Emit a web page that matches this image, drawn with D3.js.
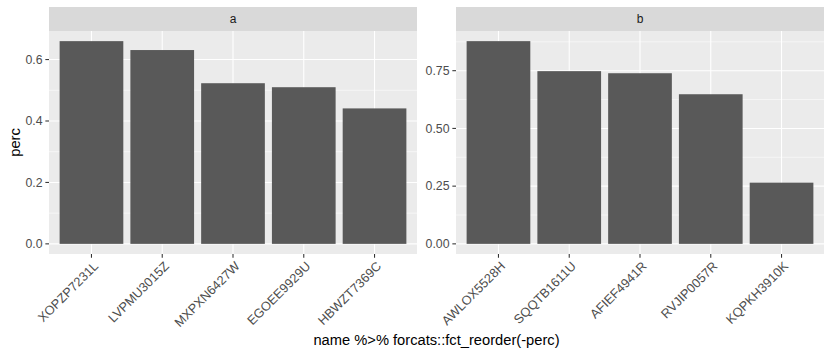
<!DOCTYPE html>
<html>
<head>
<meta charset="utf-8">
<script src="https://cdn.jsdelivr.net/npm/d3@7"></script>
<style>
body { margin: 0; background: #fff; }
text { font-family: Arial, "Liberation Sans", sans-serif; }
</style>
</head>
<body>
<script>
// Data
const panelNames = ["a", "b"];
const namesA = ["XOPZP7231L", "LVPMU3015Z", "MXPXN6427W", "EGOEE9929U", "HBWZT7369C"];
const percA = [0.660, 0.631, 0.523, 0.510, 0.441];
const namesB = ["AWLOX5528H", "SQQTB1611U", "AFIEF4941R", "RVJIP0057R", "KQPKH3910K"];
const percB = [0.878, 0.748, 0.739, 0.648, 0.265];
const ticksA = [0, 0.2, 0.4, 0.6];
const tickLabelsA = ["0.0", "0.2", "0.4", "0.6"];
const minorA = [0.1, 0.3, 0.5];
const ticksB = [0, 0.25, 0.5, 0.75];
const tickLabelsB = ["0.00", "0.25", "0.50", "0.75"];
const minorB = [0.125, 0.375, 0.625, 0.875];

const W = 832, H = 352;
const svg = d3.select("body").append("svg").attr("width", W).attr("height", H);
svg.append("rect").attr("width", W).attr("height", H).attr("fill", "#fff");

const panelTop = 31, panelBottom = 254, stripTop = 7;
const panels = [
  {name: panelNames[0], names: namesA, vals: percA, ticks: ticksA, labels: tickLabelsA, minor: minorA, x0: 49, x1: 417},
  {name: panelNames[1], names: namesB, vals: percB, ticks: ticksB, labels: tickLabelsB, minor: minorB, x0: 456, x1: 824}
];

panels.forEach(p => {
  const g = svg.append("g");
  const maxV = d3.max(p.vals);
  const y = d3.scaleLinear().domain([-0.05 * maxV, 1.05 * maxV]).range([panelBottom, panelTop]);
  const n = p.names.length;
  const unit = (p.x1 - p.x0) / (n - 1 + 1.2);
  const x = d3.scalePoint().domain(p.names).range([p.x0 + 0.6 * unit, p.x1 - 0.6 * unit]);

  // strip
  g.append("rect").attr("x", p.x0).attr("y", stripTop).attr("width", p.x1 - p.x0).attr("height", panelTop - stripTop).attr("fill", "#D9D9D9");
  g.append("text").attr("x", (p.x0 + p.x1) / 2).attr("y", (stripTop + panelTop) / 2).attr("dy", "0.35em")
    .attr("text-anchor", "middle").attr("font-size", 12).attr("fill", "#1A1A1A").text(p.name);

  // panel bg
  g.append("rect").attr("x", p.x0).attr("y", panelTop).attr("width", p.x1 - p.x0).attr("height", panelBottom - panelTop).attr("fill", "#EBEBEB");

  // minor grid
  p.minor.forEach(v => {
    g.append("line").attr("x1", p.x0).attr("x2", p.x1).attr("y1", y(v)).attr("y2", y(v)).attr("stroke", "#fff").attr("stroke-width", 0.55);
  });
  // major grid
  p.ticks.forEach(v => {
    g.append("line").attr("x1", p.x0).attr("x2", p.x1).attr("y1", y(v)).attr("y2", y(v)).attr("stroke", "#fff").attr("stroke-width", 1.07);
  });
  p.names.forEach(nm => {
    g.append("line").attr("x1", x(nm)).attr("x2", x(nm)).attr("y1", panelTop).attr("y2", panelBottom).attr("stroke", "#fff").attr("stroke-width", 1.07);
  });

  // bars
  const bw = 0.9 * unit;
  g.selectAll("rect.bar").data(p.names.map((nm, i) => ({nm, v: p.vals[i]}))).enter().append("rect")
    .attr("class", "bar")
    .attr("x", d => x(d.nm) - bw / 2).attr("width", bw)
    .attr("y", d => y(d.v)).attr("height", d => y(0) - y(d.v))
    .attr("fill", "#595959");

  // y axis
  p.ticks.forEach((v, i) => {
    g.append("line").attr("x1", p.x0 - 3.65).attr("x2", p.x0).attr("y1", y(v)).attr("y2", y(v)).attr("stroke", "#333333").attr("stroke-width", 1.07);
    g.append("text").attr("x", p.x0 - 6.5).attr("y", y(v)).attr("dy", "0.35em").attr("text-anchor", "end")
      .attr("font-size", 12.3).attr("fill", "#4D4D4D").text(p.labels[i]);
  });

  // x axis
  p.names.forEach(nm => {
    g.append("line").attr("x1", x(nm)).attr("x2", x(nm)).attr("y1", panelBottom).attr("y2", panelBottom + 3.65).attr("stroke", "#333333").attr("stroke-width", 1.07);
    g.append("text").attr("transform", `translate(${x(nm) + 1},${panelBottom + 6.5}) rotate(-45)`)
      .attr("dy", "0.72em").attr("text-anchor", "end")
      .attr("font-size", 12.8).attr("fill", "#4D4D4D").text(nm);
  });
});

// axis titles
svg.append("text").attr("x", (49 + 824) / 2).attr("y", 345).attr("text-anchor", "middle")
  .attr("font-size", 14.7).attr("fill", "#000").text("name %>% forcats::fct_reorder(-perc)");
svg.append("text").attr("transform", `translate(20,${(panelTop + panelBottom) / 2}) rotate(-90)`)
  .attr("text-anchor", "middle").attr("font-size", 14.7).attr("fill", "#000").text("perc");
</script>
</body>
</html>
